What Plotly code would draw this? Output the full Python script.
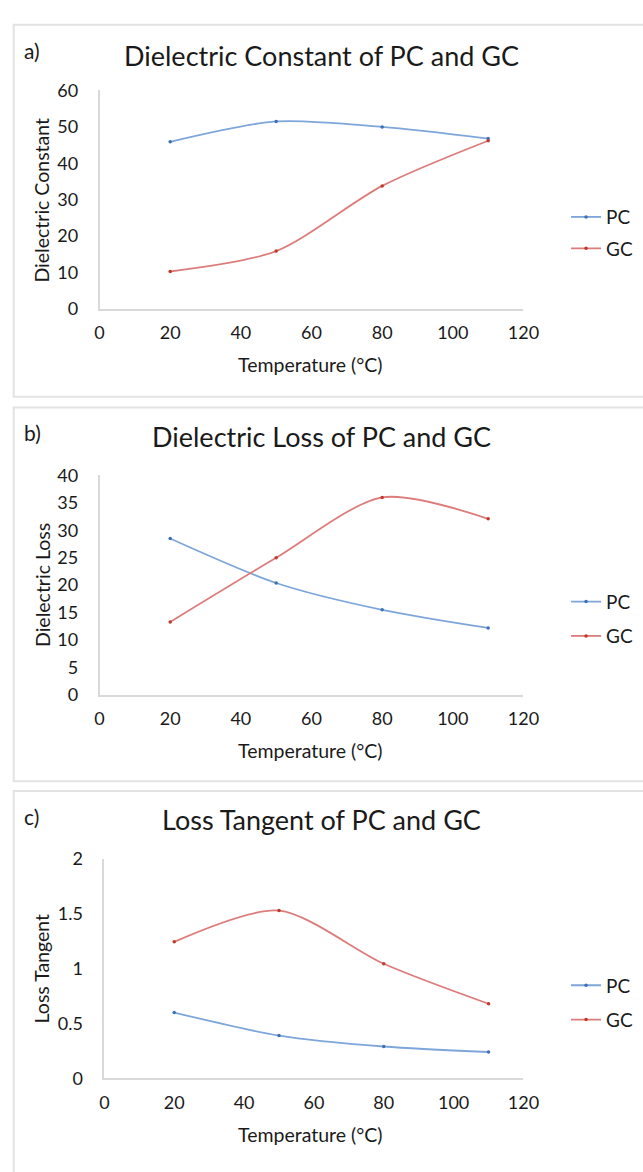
import plotly.graph_objects as go

W, H = 643, 1172

temperature = [20, 50, 80, 110]

# a) Dielectric constant
pc_const = [45.9, 51.5, 50.0, 46.8]
gc_const = [10.3, 15.9, 33.8, 46.2]

# b) Dielectric loss
pc_loss = [28.5, 20.4, 15.5, 12.2]
gc_loss = [13.3, 25.0, 36.0, 32.1]

# c) Loss tangent
pc_tan = [0.60, 0.39, 0.29, 0.24]
gc_tan = [1.245, 1.53, 1.045, 0.68]

x_ticks = [0, 20, 40, 60, 80, 100, 120]
y_ticks_a = [0, 10, 20, 30, 40, 50, 60]
y_ticks_b = [0, 5, 10, 15, 20, 25, 30, 35, 40]
y_ticks_c = [0, 0.5, 1, 1.5, 2]
y_ticktext_c = ["0", "0.5", "1", "1.5", "2"]

titles = ["Dielectric Constant of PC and GC", "Dielectric Loss of PC and GC", "Loss Tangent of PC and GC"]
ytitles = ["Dielectric Constant", "Dielectric Loss", "Loss Tangent"]
labels = ["a)", "b)", "c)"]
series_names = ["PC", "GC"]

BLUE = "#7ea6da"
BLUE_M = "#3f6fb5"
RED = "#dd7c7c"
RED_M = "#c0392b"
FONT = "Lato"
TXT = "#1a1a1a"


def px(x):
    return x / W


def py(y):
    return 1 - y / H


# panel geometry (pixels)
panels = [
    dict(x0=97.7, x1=536, yt=80, yb=302.7, bt=13, bb=392, title_y=44, leg=(209, 241)),
    dict(x0=97.7, x1=536, yt=472.3, yb=696, bt=403, bb=784, title_y=433, leg=(601, 636)),
    dict(x0=102.7, x1=536, yt=863.3, yb=1086.7, bt=794, bb=1200, title_y=823, leg=(992, 1027)),
]

data = [(pc_const, gc_const), (pc_loss, gc_loss), (pc_tan, gc_tan)]
yranges = [[0, 60], [0, 40], [0, 2]]
yticks = [(y_ticks_a, [str(v) for v in y_ticks_a]),
          (y_ticks_b, [str(v) for v in y_ticks_b]),
          (y_ticks_c, y_ticktext_c)]

fig = go.Figure()
layout = dict(
    width=W, height=H, margin=dict(l=0, r=0, t=0, b=0),
    paper_bgcolor="white", plot_bgcolor="white",
    font=dict(family=FONT, color=TXT),
    showlegend=True,
)
annotations = []
shapes = []

legend_idx = 0
for i, p in enumerate(panels):
    sfx = "" if i == 0 else str(i + 1)
    xa = "x" + sfx
    ya = "y" + sfx
    for j, (vals, name, lc, mc) in enumerate(zip(data[i], series_names, [BLUE, RED], [BLUE_M, RED_M])):
        legend_idx += 1
        lname = "legend" if legend_idx == 1 else "legend%d" % legend_idx
        fig.add_trace(go.Scatter(
            x=temperature, y=vals, name=name, mode="lines+markers",
            line=dict(color=lc, width=1.8, shape="spline", smoothing=0.8),
            marker=dict(color=mc, size=3.5),
            xaxis=xa, yaxis=ya, legend=lname, showlegend=True,
        ))
        layout[lname] = dict(
            x=px(p["x1"] + 44), xanchor="left",
            y=py(p["leg"][j]), yanchor="middle",
            bgcolor="rgba(0,0,0,0)", borderwidth=0,
            font=dict(family=FONT, size=19, color=TXT),
            itemwidth=30, tracegroupgap=0,
        )
    layout["xaxis" + sfx] = dict(
        domain=[px(p["x0"]), px(p["x1"])], range=[0, 120], anchor=ya,
        tickvals=x_ticks, ticktext=[str(v) for v in x_ticks],
        showline=True, linecolor="#d9d9d9", linewidth=1.5,
        showgrid=False, zeroline=False,
        ticks="outside", ticklen=7, tickcolor="rgba(0,0,0,0)",
        tickfont=dict(family=FONT, size=18, color=TXT), fixedrange=True,
    )
    layout["yaxis" + sfx] = dict(
        domain=[py(p["yb"]), py(p["yt"])], range=yranges[i], anchor=xa,
        tickvals=yticks[i][0], ticktext=yticks[i][1],
        showline=True, linecolor="#d9d9d9", linewidth=1.5,
        showgrid=False, zeroline=False,
        ticks="outside", ticklen=16, tickcolor="rgba(0,0,0,0)",
        tickfont=dict(family=FONT, size=18, color=TXT), fixedrange=True,
    )
    annotations.append(dict(
        text=titles[i], x=px(327), y=py(p["title_y"]), xref="paper", yref="paper",
        xanchor="center", yanchor="middle", showarrow=False,
        font=dict(family=FONT, size=27, color=TXT),
    ))
    annotations.append(dict(
        text=labels[i], x=px(18), y=py(p["bt"] + 26), xref="paper", yref="paper",
        xanchor="left", yanchor="middle", showarrow=False,
        font=dict(family=FONT, size=21, color=TXT),
    ))
    annotations.append(dict(
        text="Temperature (°C)", x=px(316), y=py(p["yb"] + 57), xref="paper", yref="paper",
        xanchor="center", yanchor="middle", showarrow=False,
        font=dict(family=FONT, size=19.5, color=TXT),
    ))
    annotations.append(dict(
        text=ytitles[i], x=px(38), y=py((p["yt"] + p["yb"]) / 2), xref="paper", yref="paper",
        xanchor="center", yanchor="middle", showarrow=False, textangle=-90,
        font=dict(family=FONT, size=19.5, color=TXT),
    ))
    shapes.append(dict(
        type="rect", xref="paper", yref="paper",
        x0=px(9), x1=px(700), y0=py(p["bb"]), y1=py(p["bt"]),
        line=dict(color="#e3e3e3", width=2), fillcolor="rgba(0,0,0,0)", layer="below",
    ))

layout["annotations"] = annotations
layout["shapes"] = shapes
fig.update_layout(**layout)
fig.write_html("out.html")
